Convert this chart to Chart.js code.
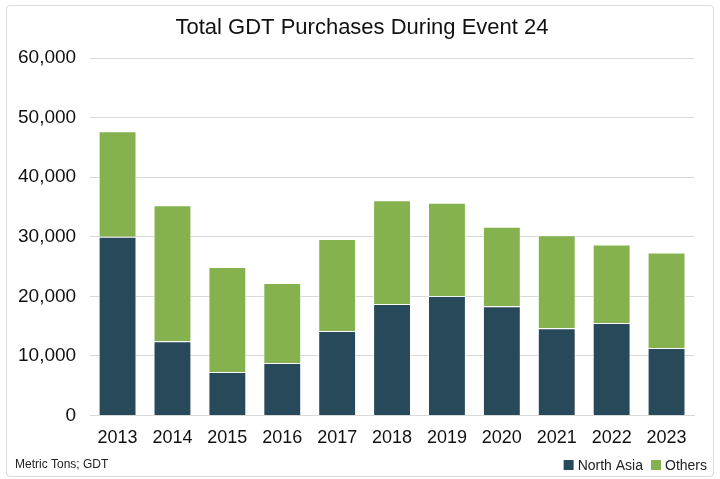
<!DOCTYPE html>
<html>
<head>
<meta charset="utf-8">
<script src="https://cdn.jsdelivr.net/npm/chart.js@4.4.1/dist/chart.umd.min.js"></script>
<style>
    html, body { margin: 0; padding: 0; background: #fff; }
    #wrap {
        position: absolute; left: 6px; top: 5px; width: 708px; height: 472px;
        border: 1px solid #d9d9d9; border-radius: 4px; box-sizing: border-box;
    }
    #chart { position: absolute; left: 0; top: 0; }
</style>
</head>
<body>
<div id="wrap"></div>
<canvas id="chart" width="720" height="479"></canvas>
<script>
// Data
const years = ['2013', '2014', '2015', '2016', '2017', '2018', '2019', '2020', '2021', '2022', '2023'];
const northAsia = [30000, 12450, 7280, 8800, 14170, 18700, 20050, 18320, 14620, 15520, 11310];
const others = [17700, 22850, 17620, 13440, 15460, 17430, 15630, 13330, 15630, 13170, 16030];
const yTicks = [0, 10000, 20000, 30000, 40000, 50000, 60000];

const FONT = '"Liberation Sans", Arial, sans-serif';
const TITLE = 'Total GDT Purchases During Event 24';

// title on top, footnote bottom left + legend bottom right
const decorPlugin = {
    id: 'decor',
    afterDraw(chart) {
        const ctx = chart.ctx;
        ctx.save();
        ctx.fillStyle = '#111';
        ctx.font = '22px ' + FONT;
        ctx.textAlign = 'center';
        ctx.textBaseline = 'middle';
        ctx.fillText(TITLE, 362, 28);

        const y = 465;
        ctx.textAlign = 'left';
        ctx.font = '12px ' + FONT;
        ctx.fillStyle = '#222';
        ctx.fillText('Metric Tons; GDT', 15, y);

        // legend, right aligned
        ctx.font = '14px ' + FONT;
        const box = 10, gap = 4, spacing = 8;
        const items = chart.data.datasets.map(ds => ({
            text: ds.label,
            color: ds.backgroundColor,
            w: box + gap + ctx.measureText(ds.label).width
        }));
        const total = items.reduce((s, it) => s + it.w, 0) + spacing * (items.length - 1);
        let x = 707 - total;
        items.forEach(it => {
            ctx.fillStyle = it.color;
            ctx.fillRect(x, y - box / 2, box, box);
            ctx.fillStyle = '#222';
            ctx.fillText(it.text, x + box + gap, y + 1);
            x += it.w + spacing;
        });
        ctx.restore();
    }
};

new Chart(document.getElementById('chart'), {
    type: 'bar',
    data: {
        labels: years,
        datasets: [
            {
                label: 'North Asia',
                data: northAsia,
                backgroundColor: '#284959',
                borderColor: 'rgba(255,255,255,0.7)',
                borderWidth: 1,
                borderSkipped: 'bottom'
            },
            {
                label: 'Others',
                data: others,
                backgroundColor: '#85B24E',
                borderColor: 'rgba(255,255,255,0.7)',
                borderWidth: 1,
                borderSkipped: 'bottom'
            }
        ]
    },
    plugins: [decorPlugin],
    options: {
        responsive: false,
        animation: false,
        layout: { padding: { left: 4, right: 26, top: 58, bottom: 26 } },
        datasets: { bar: { categoryPercentage: 0.69, barPercentage: 1 } },
        plugins: {
            title: { display: false },
            legend: { display: false },
            tooltip: { enabled: false }
        },
        scales: {
            x: {
                stacked: true,
                grid: { display: false },
                border: { color: '#d9d9d9' },
                ticks: { color: '#111', font: { family: FONT, size: 18 }, padding: 4 }
            },
            y: {
                stacked: true,
                min: 0,
                max: 60000,
                afterBuildTicks: axis => { axis.ticks = yTicks.map(v => ({ value: v })); },
                grid: { color: '#d9d9d9', drawTicks: false },
                border: { display: false },
                ticks: {
                    color: '#111',
                    padding: 14,
                    font: { family: FONT, size: 19 },
                    callback: v => v.toLocaleString('en-US')
                }
            }
        }
    }
});
</script>
</body>
</html>
